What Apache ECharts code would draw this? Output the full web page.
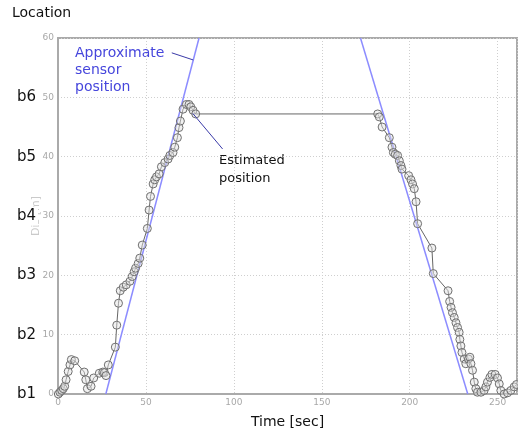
<!DOCTYPE html>
<html>
<head>
<meta charset="utf-8">
<script src="https://cdn.jsdelivr.net/npm/echarts@6/dist/echarts.min.js"></script>
<style>
  html, body { margin: 0; padding: 0; background: #fff; }
  #chart { width: 518px; height: 434px; }
</style>
</head>
<body>
<div id="chart"></div>
<script>
// Estimated position over time: [time in sec, distance in m]
const estimatedPosition = [
  [0.2, 0.0], [1.1, 0.3], [2.1, 0.6], [3.0, 0.9], [3.8, 1.3], [4.6, 2.4],
  [5.8, 3.8], [6.8, 4.9], [7.6, 5.8], [9.5, 5.6], [14.9, 3.7], [15.8, 2.4],
  [16.7, 0.9], [18.8, 1.3], [20.3, 2.7], [23.5, 3.5], [25.5, 3.7], [26.4, 3.6],
  [27.3, 3.1], [28.6, 4.9], [32.6, 7.9], [33.4, 11.6], [34.4, 15.3], [35.4, 17.4],
  [37.1, 18.0], [38.8, 18.4], [40.9, 19.0], [42.2, 19.8], [43.3, 20.6], [44.1, 21.2],
  [45.6, 22.0], [46.5, 22.9], [47.9, 25.1], [50.8, 27.9], [51.8, 31.0], [52.6, 33.3],
  [54.1, 35.4], [55.0, 36.1], [56.0, 36.6], [57.5, 37.1], [58.8, 38.3], [60.7, 39.0],
  [62.6, 39.6], [63.6, 40.2], [65.4, 40.7], [66.4, 41.6], [67.9, 43.2], [68.8, 44.9],
  [69.6, 46.0], [71.1, 48.0], [73.0, 48.8], [74.5, 48.8], [75.5, 48.4], [76.8, 47.8],
  [78.3, 47.2],
  [181.8, 47.2], [182.7, 46.7], [184.3, 45.0], [188.4, 43.2], [189.9, 41.6], [190.7, 40.7],
  [191.8, 40.4], [193.1, 40.2], [194.1, 39.3], [195.0, 38.5], [195.6, 37.9], [199.4, 36.8],
  [200.7, 36.1], [201.6, 35.4], [202.6, 34.6], [203.6, 32.4], [204.5, 28.7], [212.6, 24.6],
  [213.4, 20.3], [221.8, 17.4], [222.7, 15.6], [223.5, 14.6], [224.3, 13.7], [225.3, 12.9],
  [226.3, 12.0], [227.2, 11.2], [228.1, 10.4], [228.5, 9.2], [229.1, 8.1], [229.7, 7.0],
  [231.0, 5.9], [231.9, 5.1], [233.4, 5.9], [234.2, 6.2], [234.8, 5.1], [235.7, 4.0],
  [236.7, 2.0], [237.6, 0.9], [238.5, 0.3], [240.5, 0.3], [242.3, 0.6], [243.3, 1.2],
  [244.2, 2.0], [245.6, 2.8], [246.7, 3.3], [248.6, 3.3], [249.9, 2.7], [250.9, 1.7],
  [251.8, 0.6], [253.7, 0.0], [255.6, 0.2], [257.5, 0.6], [259.4, 1.2], [260.7, 1.6]
];

// Approximate sensor position: rising and falling legs
const sensorRise = [[27.2, 0], [80.2, 60]];
const sensorFall = [[172.0, 60], [233.0, 0]];

// Leader lines for the two callouts [from text, to mark]
const sensorLeader = [[64.7, 57.5], [76.9, 56.3]];
const estimateLeader = [[76.6, 47.3], [93.6, 41.3]];

// Sensor location labels along the distance axis
const locationLabels = ['b1', 'b2', 'b3', 'b4', 'b5', 'b6', ''];

const X_MAX = 261;
const Y_MAX = 60;

const FONT = '"DejaVu Sans", Verdana, sans-serif';

const chart = echarts.init(document.getElementById('chart'), null, { renderer: 'canvas' });

chart.setOption({
  animation: false,
  backgroundColor: '#fff',
  grid: {
    left: 58, top: 38, right: 1, bottom: 37,
    show: true, borderColor: '#aaa', borderWidth: 2, backgroundColor: 'transparent'
  },
  xAxis: {
    type: 'value', min: 0, max: X_MAX, interval: 50,
    axisLine: { show: true, onZero: false, lineStyle: { color: '#aaa', width: 2 } },
    axisTick: { show: false },
    axisLabel: {
      color: '#a8a8a8', fontSize: 9, fontFamily: FONT, margin: 4,
      showMaxLabel: false
    },
    splitLine: { show: true, lineStyle: { color: '#cfcfcf', type: [1, 2], width: 1 } },
    name: 'Time [sec]', nameLocation: 'middle', nameGap: 21,
    nameTextStyle: { color: '#111', fontSize: 14, fontFamily: FONT }
  },
  yAxis: [
    {
      type: 'value', min: 0, max: Y_MAX, interval: 10,
      axisLine: { show: true, lineStyle: { color: '#aaa', width: 2 } },
      axisTick: { show: false },
      axisLabel: { color: '#a8a8a8', fontSize: 9, fontFamily: FONT, margin: 4 },
      splitLine: { show: true, lineStyle: { color: '#cfcfcf', type: [1, 2], width: 1 } },
      name: 'Dis [m]', nameLocation: 'middle', nameGap: 16, nameMoveOverlap: false,
      nameTextStyle: { color: '#cacaca', fontSize: 11, fontFamily: FONT }
    },
    {
      type: 'value', position: 'left', min: 0, max: Y_MAX, interval: 10, z: 5,
      axisLine: { show: false }, axisTick: { show: false }, splitLine: { show: false },
      axisLabel: {
        margin: 20, fontSize: 15, color: '#111', fontFamily: FONT,
        backgroundColor: '#fff', padding: [2, 2, 2, 2],
        formatter: v => locationLabels[Math.round(v / 10)]
      }
    }
  ],
  series: [
    {
      name: 'Approximate sensor position', type: 'line', data: sensorRise,
      showSymbol: false, symbol: 'none', z: 2,
      lineStyle: { color: '#8c8cff', width: 1.5 }
    },
    {
      name: 'Approximate sensor position', type: 'line', data: sensorFall,
      showSymbol: false, symbol: 'none', z: 2,
      lineStyle: { color: '#8c8cff', width: 1.5 }
    },
    {
      name: 'Estimated position', type: 'line', data: estimatedPosition, z: 3,
      symbol: 'circle', symbolSize: 8,
      itemStyle: { color: 'rgba(225,225,225,0.45)', borderColor: '#707070', borderWidth: 1 },
      lineStyle: { color: '#666', width: 1 }
    },
    {
      type: 'line', data: sensorLeader, symbol: 'none', z: 4,
      lineStyle: { color: '#3a3aa8', width: 1 }
    },
    {
      type: 'line', data: estimateLeader, symbol: 'none', z: 4,
      lineStyle: { color: '#3a3aa8', width: 1 }
    }
  ],
  graphic: [
    {
      type: 'text', left: 12, top: 6,
      style: { text: 'Location', fontSize: 14, fontFamily: FONT, fill: '#111' }
    },
    {
      type: 'text', left: 75, top: 45,
      style: {
        text: 'Approximate\nsensor\nposition', fontSize: 14, lineHeight: 17,
        fontFamily: FONT, fill: '#4646dc'
      }
    },
    {
      type: 'text', left: 219, top: 152,
      style: {
        text: 'Estimated\nposition', fontSize: 13, lineHeight: 18,
        fontFamily: FONT, fill: '#111'
      }
    }
  ]
});
</script>
</body>
</html>
